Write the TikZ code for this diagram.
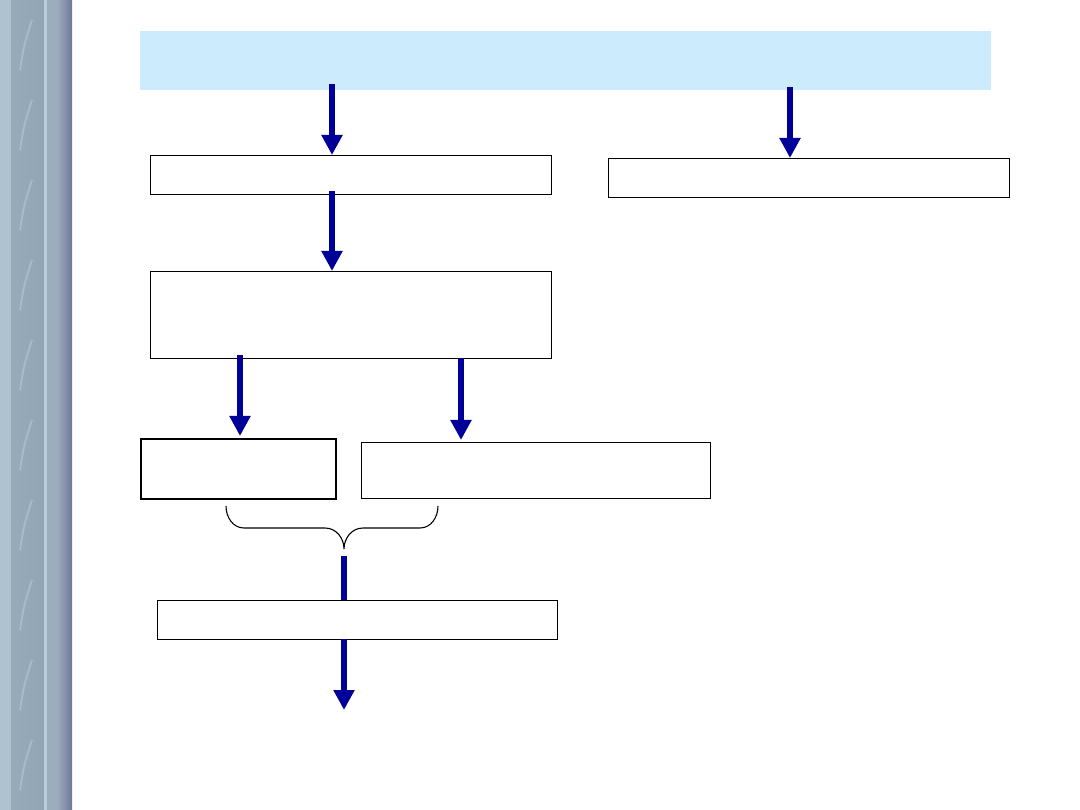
\documentclass[tikz,border=0pt]{standalone}
\usetikzlibrary{arrows.meta}
\definecolor{navyarrow}{HTML}{000099}
\definecolor{paleblue}{HTML}{CCEBFC}
\definecolor{barA}{HTML}{AFC2D0}
\definecolor{barB}{HTML}{92A5B4}
\definecolor{barC}{HTML}{BCCCD8}
\definecolor{barD}{HTML}{6E7B96}
\definecolor{barE}{HTML}{9DAABF}
\tikzset{
  flowbox/.style={draw=black, line width=1.2pt, fill=white, inner sep=0pt, anchor=north west},
  bigarrow/.style={draw=navyarrow, line width=6.5pt, -{Triangle[width=20pt,length=20pt]}},
  shaft/.style={draw=navyarrow, line width=6.5pt},
  brace/.style={draw=black, line width=1.1pt}
}
\begin{document}
\begin{tikzpicture}[x=1pt,y=-1pt]
\useasboundingbox (0,0) rectangle (1080,810);
\fill[white] (0,0) rectangle (1080,810);
% sidebar
\fill[barA] (0,0) rectangle (72,810);
\shade[left color=barB!80!barA, right color=barB] (11,0) rectangle (44,810);
\fill[barC] (44,0) rectangle (47,810);
\fill[barB!70!barA] (47,0) rectangle (57,810);
\shade[left color=barE, right color=barD] (57,0) rectangle (72,810);
\foreach \yy in {0,80,...,800}{
  \draw[barC, line width=2pt, opacity=0.5] (20,\yy+70) .. controls (24,\yy+45) .. (32,\yy+20);
}
% top band
\fill[paleblue] (140,31) rectangle (991,90);
% boxes
\node[flowbox, minimum width=401pt, minimum height=39pt] (b1) at (150,155) {};
\node[flowbox, minimum width=401pt, minimum height=39pt] (br) at (608,158) {};
\node[flowbox, minimum width=401pt, minimum height=87pt] (b2) at (150,271) {};
\node[flowbox, minimum width=195pt, minimum height=60pt, line width=1.6pt] (b3) at (140,438) {};
\node[flowbox, minimum width=349pt, minimum height=56pt, line width=1.4pt] (b4) at (361,442) {};
\node[flowbox, minimum width=400pt, minimum height=39pt] (b5) at (157,600) {};
% arrow coordinates
\coordinate (s1) at (332,84);
\coordinate (e1) at (332,155);
\coordinate (s2) at (332,191);
\coordinate (e2) at (332,271);
\coordinate (sr) at (790,87);
\coordinate (er) at (790,158);
\coordinate (s3) at (240,355);
\coordinate (e3) at (240,436);
\coordinate (s4) at (461,358);
\coordinate (e4) at (461,440);
\coordinate (s5) at (344,556);
\coordinate (e5) at (344,600);
\coordinate (s6) at (344,639);
\coordinate (e6) at (344,710);
\draw[bigarrow] (s1) -- (e1);
\draw[bigarrow] (s2) -- (e2);
\draw[bigarrow] (sr) -- (er);
\draw[bigarrow] (s3) -- (e3);
\draw[bigarrow] (s4) -- (e4);
\draw[shaft] (s5) -- (e5);
\draw[bigarrow] (s6) -- (e6);
% brace
\coordinate (bl) at (226,506);
\coordinate (bt) at (344,549);
\coordinate (brr) at (438,506);
\draw[brace] (bl) to[out=-90,in=180] (244,528) -- (325,528) to[out=0,in=90] (bt)
  to[out=90,in=180] (363,528) -- (420,528) to[out=0,in=-90] (brr);
\end{tikzpicture}
\end{document}
